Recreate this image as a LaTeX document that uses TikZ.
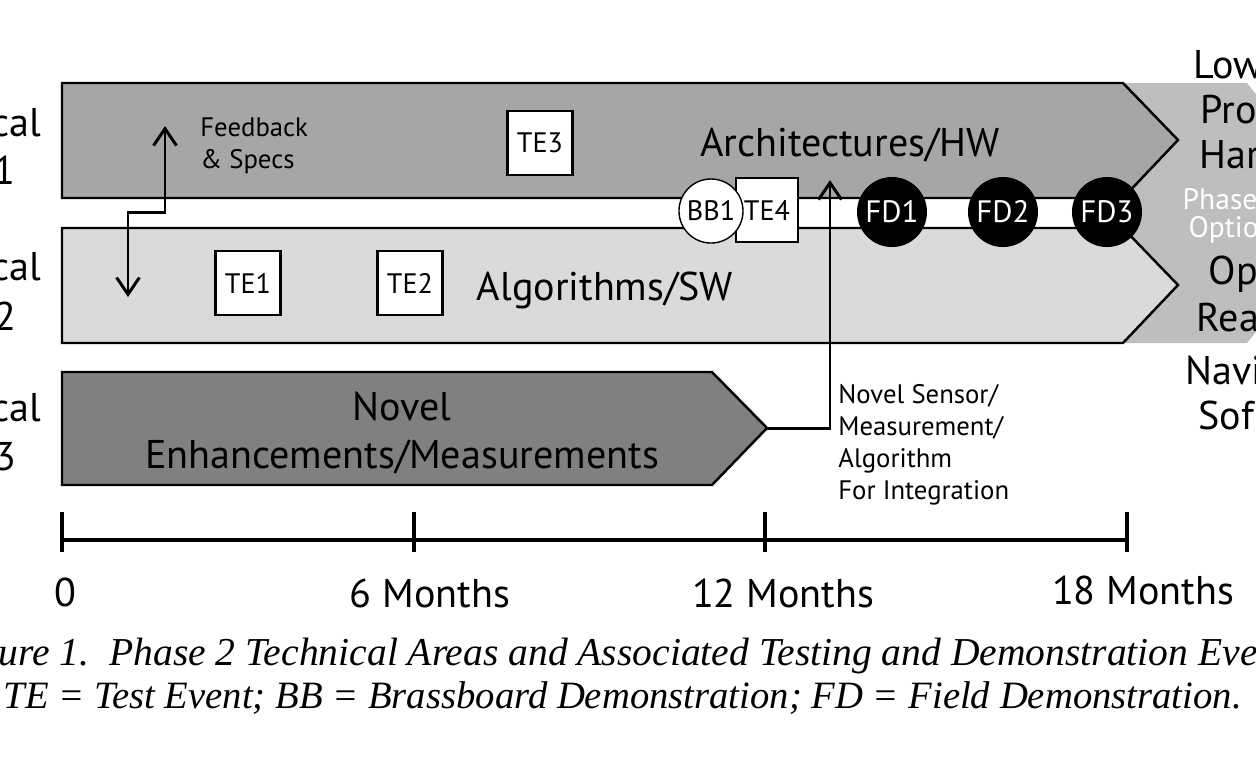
\documentclass[tikz,border=0pt]{standalone}
\usepackage{fontspec}
\setmainfont{PT Sans}
\newfontfamily\capfont{Liberation Serif}
\usepackage{xcolor}
\usepackage{tikz}
\usetikzlibrary{arrows.meta}

\definecolor{hwgray}{RGB}{166,166,166}
\definecolor{swgray}{RGB}{218,218,218}
\definecolor{novgray}{RGB}{128,128,128}
\definecolor{phasegray}{RGB}{190,190,190}

\tikzset{
  band/.style={draw=black,line width=0.7pt},
  bigtext/.style={font=\fontsize{11.4}{13.4}\selectfont,align=center},
  smalltext/.style={font=\fontsize{7.6}{9}\selectfont,align=left},
  tebox/.style={rectangle,draw=black,line width=0.7pt,fill=white,inner sep=0pt,
                minimum width=0.65cm,minimum height=0.64cm,font=\fontsize{8}{9}\selectfont},
}

\begin{document}
\begin{tikzpicture}[x=0.01cm,y=-0.01cm]
\useasboundingbox (0,0) rectangle (1256,756);
\clip (0,0) rectangle (1256,756);

% phase 3 background
\fill[phasegray] (1115,83) -- (1247,83) -- (1351,213) -- (1247,343) -- (1115,343) -- cycle;

% technical area bands
\draw[band,fill=hwgray] (62,83) -- (1123,83) -- (1178,140) -- (1123,198) -- (62,198) -- cycle;
\draw[band,fill=swgray] (62,228) -- (1123,228) -- (1178,285) -- (1123,343) -- (62,343) -- cycle;
\draw[band,fill=novgray] (62,372) -- (712,372) -- (767,428) -- (712,485) -- (62,485) -- cycle;
\coordinate (nvtip) at (767,428);

\node[bigtext] (hw) at (850,145) {Architectures/HW};
\node[bigtext] (sw) at (605,290) {Algorithms/SW};
\node[bigtext] (nov) at (402,433) {Novel\\Enhancements/Measurements};

% cut-off side labels
\begin{scope}[every node/.style={font=\fontsize{11.4}{13.4}\selectfont,inner sep=0pt}]
    \node[anchor=east] (ta1a) at (42,123) {cal};
    \node[anchor=east] (ta1b) at (16,170) {1};
    \node[anchor=east] (ta2a) at (42,267) {cal};
    \node[anchor=east] (ta2b) at (17,316) {2};
    \node[anchor=east] (ta3a) at (42,408) {cal};
    \node[anchor=east] (ta3b) at (17,457) {3};

    \node[anchor=west] (p3a) at (1193,65) {Low};
    \node[anchor=west] (p3b) at (1200,110) {Pro};
    \node[anchor=west] (p3c) at (1199,155) {Har};
    \node[anchor=west,text=white,font=\fontsize{8.4}{9}\selectfont] (p3d) at (1182,199) {Phase};
    \node[anchor=west,text=white,font=\fontsize{8.4}{9}\selectfont] (p3e) at (1188,230) {Optio};
    \node[anchor=west] (p3f) at (1208,274) {Op};
    \node[anchor=west] (p3g) at (1196,318) {Rea};
    \node[anchor=west] (p3h) at (1185,370) {Navi};
    \node[anchor=west] (p3i) at (1198,415) {Sof};
\end{scope}

% test events and demonstrations
\node[tebox] (te1) at (248,283) {TE1};
\node[tebox] (te2) at (410,283) {TE2};
\node[tebox] (te3) at (540,143) {TE3};
\node[tebox,minimum width=0.62cm] (te4) at (767,210) {TE4};
\node[circle,draw=black,thin,fill=white,inner sep=0pt,minimum size=0.64cm,
      font=\fontsize{8}{9}\selectfont] (bb1) at (711,211) {BB1};
\begin{scope}[every node/.style={circle,fill=black,text=white,inner sep=0pt,
              minimum size=0.7cm,font=\fontsize{8.8}{9}\selectfont}]
    \node (fd1) at (892,212) {FD1};
    \node (fd2) at (1003,212) {FD2};
    \node (fd3) at (1107,212) {FD3};
\end{scope}

% feedback and integration arrows
\coordinate (fbbot) at (128,297);
\coordinate (fbtop) at (165,126);
\coordinate (nsend) at (830,180);
\begin{scope}[>={Straight Barb[length=4.8pt,width=6.5pt]},line width=0.85pt]
    \draw[<->] (fbbot) -- ++(0,-85) -| (fbtop);
    \draw[->] (nvtip) -| (nsend);
\end{scope}
\node[smalltext,anchor=west] (fb) at (188,146) {Feedback\\\& Specs};
\node[smalltext,anchor=north west,font=\fontsize{7.6}{9.1}\selectfont] (ns) at (826,372)
    {Novel Sensor/\\Measurement/\\Algorithm\\For Integration};

% timeline
\coordinate (t0) at (62,540);
\coordinate (t6) at (414,540);
\coordinate (t12) at (765,540);
\coordinate (t18) at (1127,540);
\draw[line width=0.9pt] (t0) -- (t18);
\foreach \t in {t0,t6,t12,t18}
    \draw[line width=0.9pt] (\t) ++(0,-28) -- ++(0,40);
\begin{scope}[every node/.style={font=\fontsize{11.4}{13.4}\selectfont}]
    \node (l0) at (65,592) {0};
    \node (l6) at (430,593) {6 Months};
    \node (l12) at (783,593) {12 Months};
    \node (l18) at (1143,590) {18 Months};
\end{scope}

% caption
\begin{scope}[every node/.style={font=\capfont\itshape\fontsize{11}{13}\selectfont,inner sep=0pt}]
    \node[anchor=base west,font=\capfont\itshape\fontsize{11.25}{13}\selectfont] (cap1) at (-2,665)
        {ure 1.\ \ Phase 2 Technical Areas and Associated Testing and Demonstration Eve};
    \node[anchor=base west] (cap2) at (3,708) {TE = Test Event; BB = Brassboard Demonstration; FD = Field Demonstration.};
\end{scope}
\end{tikzpicture}
\end{document}
